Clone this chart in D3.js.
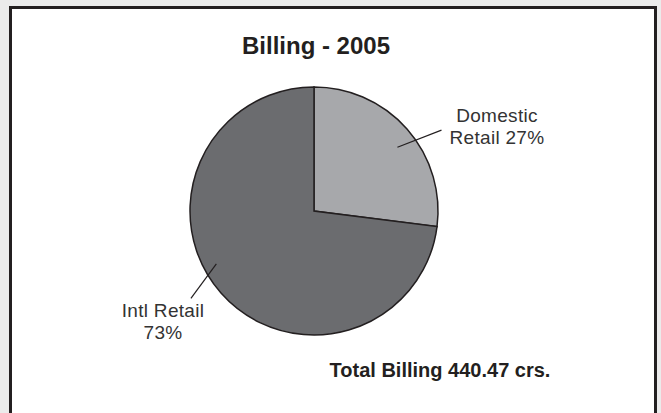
<!DOCTYPE html>
<html>
<head>
<meta charset="utf-8">
<script src="https://cdn.jsdelivr.net/npm/d3@7"></script>
<style>
  body { margin: 0; background: #ebebeb; }
  svg { display: block; }
</style>
</head>
<body>
<div id="chart-area"></div>
<script>
// Data
var title = "Billing - 2005";
var categories = ["Domestic Retail", "Intl Retail"];
var values = [27, 73];
var labelLines = [["Domestic", "Retail 27%"], ["Intl Retail", "73%"]];
var totalText = "Total Billing 440.47 crs.";

var width = 661, height = 413;
var radius = 124;
var cx = 314, cy = 211;
var colors = ["#a7a8ab", "#6b6c6f"];
var font = "'Liberation Sans', Arial, sans-serif";

var svg = d3.select("#chart-area")
    .append("svg")
        .attr("width", width)
        .attr("height", height);

// Background + frame
svg.append("rect")
    .attr("width", width)
    .attr("height", height)
    .attr("fill", "#ebebeb");
svg.append("rect")
    .attr("x", 10.5)
    .attr("y", 7.5)
    .attr("width", 645)
    .attr("height", 420)
    .attr("fill", "#fff")
    .attr("stroke", "#231f20")
    .attr("stroke-width", 3);

// Title
svg.append("text")
    .attr("x", 316)
    .attr("y", 54)
    .attr("text-anchor", "middle")
    .attr("font-family", font)
    .attr("font-weight", "bold")
    .attr("font-size", "24px")
    .attr("fill", "#231f20")
    .text(title);

var g = svg.append("g")
    .attr("transform", "translate(" + cx + "," + cy + ")");

var pie = d3.pie().sort(null).value(function(d){ return d; });
var arc = d3.arc().innerRadius(0).outerRadius(radius);
var arcs = pie(values);

g.selectAll("path")
    .data(arcs)
    .enter()
    .append("path")
        .attr("d", arc)
        .attr("fill", function(d, i){ return colors[i]; })
        .attr("stroke", "#231f20")
        .attr("stroke-width", 1.5);

// Leader lines: angle tweaks (deg) relative to slice middle, start / end radius
var leader = [
    { a0: 4, r0: 105, a1: 9, r1: 151, tx: 497, ty: 122 },
    { a0: 13, r0: 111, a1: 6, r1: 151, tx: 163, ty: 317 }
];

function pt(angle, r) {
    return [Math.sin(angle) * r, -Math.cos(angle) * r];
}

arcs.forEach(function(d, i){
    var mid = (d.startAngle + d.endAngle) / 2;
    var L = leader[i];
    var p0 = pt(mid + L.a0 * Math.PI / 180, L.r0);
    var p1 = pt(mid + L.a1 * Math.PI / 180, L.r1);
    g.append("line")
        .attr("x1", p0[0]).attr("y1", p0[1])
        .attr("x2", p1[0]).attr("y2", p1[1])
        .attr("stroke", "#231f20")
        .attr("stroke-width", 1.2);

    var t = svg.append("text")
        .attr("text-anchor", "middle")
        .attr("font-family", font)
        .attr("font-size", "19px")
        .attr("letter-spacing", "0.3px")
        .attr("fill", "#333");
    labelLines[i].forEach(function(line, j){
        t.append("tspan")
            .attr("x", L.tx)
            .attr("y", L.ty + j * 22)
            .text(line);
    });
});

// Total
svg.append("text")
    .attr("x", 440)
    .attr("y", 377)
    .attr("text-anchor", "middle")
    .attr("font-family", font)
    .attr("font-weight", "bold")
    .attr("font-size", "20px")
    .attr("fill", "#231f20")
    .text(totalText);
</script>
</body>
</html>
